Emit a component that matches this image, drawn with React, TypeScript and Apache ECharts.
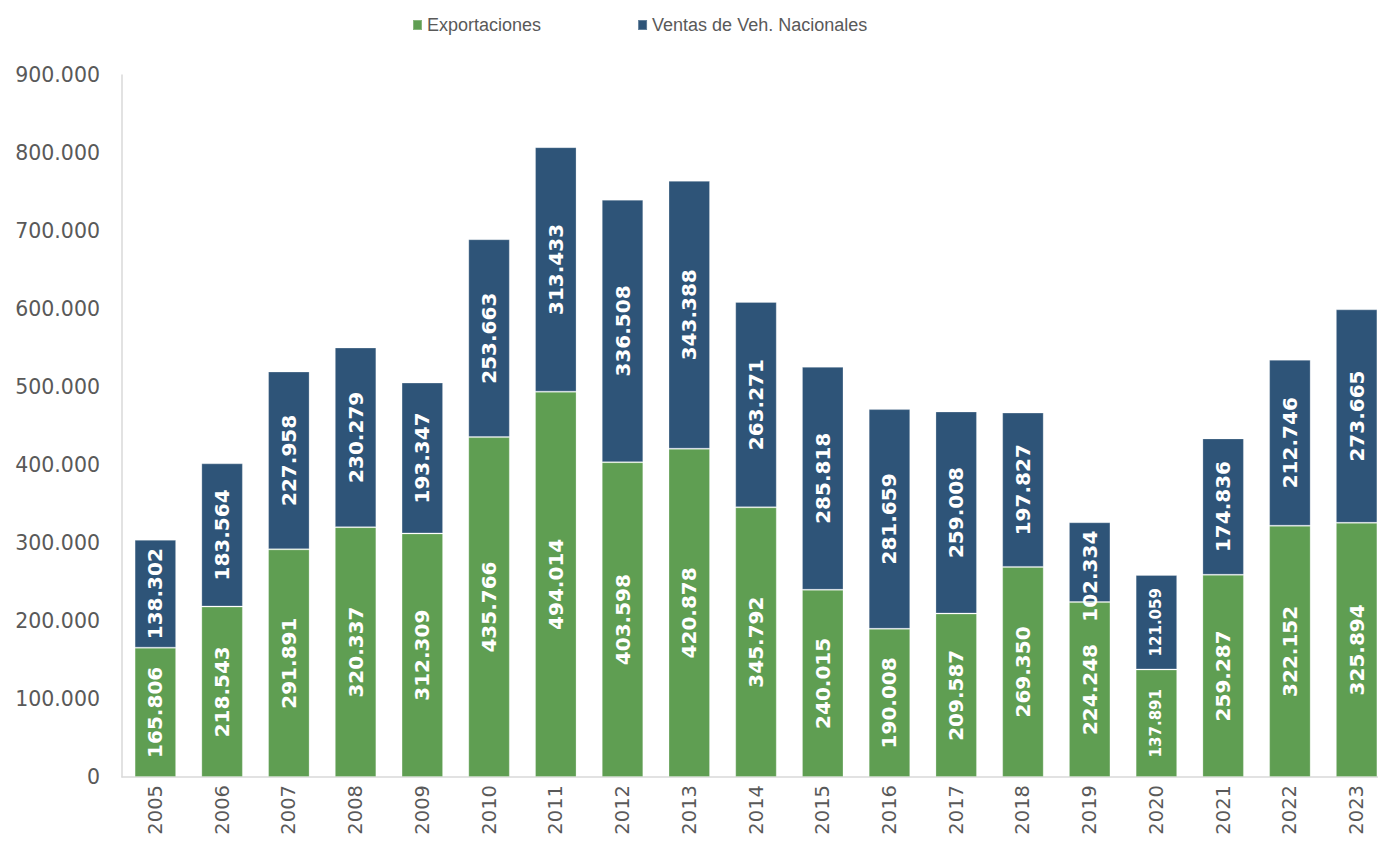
import React, { useEffect, useRef } from "react";
import * as echarts from "echarts";

const years = ["2005","2006","2007","2008","2009","2010","2011","2012","2013","2014","2015","2016","2017","2018","2019","2020","2021","2022","2023"];
const exportaciones = [165806,218543,291891,320337,312309,435766,494014,403598,420878,345792,240015,190008,209587,269350,224248,137891,259287,322152,325894];
const ventasNacionales = [138302,183564,227958,230279,193347,253663,313433,336508,343388,263271,285818,281659,259008,197827,102334,121059,174836,212746,273665];
const yTicks = { min: 0, max: 900000, interval: 100000 };
const smallLabelYears = ["2020"];
const shiftedVentasLabelYears = ["2019"];

const fmt = (n: number) => String(Math.round(n)).replace(/\B(?=(\d{3})+(?!\d))/g, ".");
const FONT = "'DejaVu Sans', Verdana, sans-serif";
const GREEN = "#5f9e52";
const BLUE = "#2e5478";

export default function App() {
  const ref = useRef<HTMLDivElement>(null);
  useEffect(() => {
    if (!ref.current) return;
    const chart = echarts.init(ref.current, undefined, { renderer: "svg" });
    const mk = (arr: number[], shiftYears: string[]) =>
      arr.map((v, i) => {
        const item: any = { value: v };
        const label: any = {};
        if (smallLabelYears.includes(years[i])) label.fontSize = 15;
        if (shiftYears.includes(years[i])) label.offset = [-14, 0];
        if (Object.keys(label).length) item.label = label;
        return item;
      });
    const labelCfg = {
      show: true,
      position: "inside",
      rotate: 90,
      color: "#ffffff",
      fontWeight: "bold",
      fontSize: 20,
      fontFamily: FONT,
      formatter: (p: any) => fmt(p.value),
    };
    chart.setOption({
      animation: false,
      textStyle: { fontFamily: FONT },
      legend: {
        left: 407,
        top: 11,
        itemWidth: 9,
        itemHeight: 10,
        itemGap: 96,
        icon: "rect",
        textStyle: { color: "#595959", fontSize: 18, fontFamily: "'Liberation Sans', Arial, sans-serif" },
        data: ["Exportaciones", "Ventas de Veh. Nacionales"],
      },
      grid: { left: 122, right: 10, top: 75, bottom: 71, containLabel: false },
      xAxis: {
        type: "category",
        data: years,
        axisLine: { show: true, lineStyle: { color: "#d9d9d9", width: 1.5 } },
        axisTick: { show: false },
        axisLabel: { rotate: 90, color: "#595959", fontSize: 19.5, fontFamily: FONT, margin: 8 },
      },
      yAxis: {
        type: "value",
        min: yTicks.min,
        max: yTicks.max,
        interval: yTicks.interval,
        splitLine: { show: false },
        axisLine: { show: true, lineStyle: { color: "#d9d9d9", width: 1.5 } },
        axisTick: { show: false },
        axisLabel: {
          color: "#595959",
          fontSize: 20.5,
          fontFamily: FONT,
          margin: 22,
          formatter: (v: number) => fmt(v),
        },
      },
      series: [
        {
          name: "Exportaciones",
          type: "bar",
          stack: "total",
          barCategoryGap: "37.8%",
          data: mk(exportaciones, []),
          itemStyle: { color: GREEN, borderColor: "rgba(255,255,255,0.25)", borderWidth: 1 },
          label: labelCfg,
        },
        {
          name: "Ventas de Veh. Nacionales",
          type: "bar",
          stack: "total",
          barCategoryGap: "37.8%",
          data: mk(ventasNacionales, shiftedVentasLabelYears),
          itemStyle: { color: BLUE, borderColor: "rgba(255,255,255,0.25)", borderWidth: 1 },
          label: labelCfg,
        },
      ],
    });
    return () => chart.dispose();
  }, []);
  return (
    <div
      ref={ref}
      style={{ position: "fixed", left: 0, top: 0, width: 1400, height: 848, background: "#ffffff" }}
    />
  );
}
